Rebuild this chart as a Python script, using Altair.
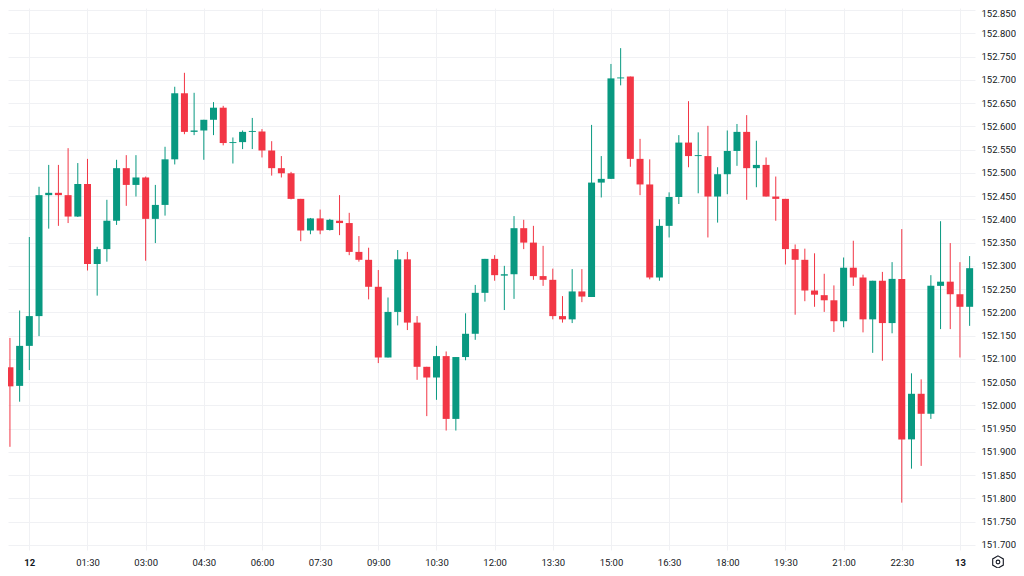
import altair as alt
import pandas as pd

# 15-minute candles, first candle at 23:15 of the previous day (minute -45)
start_minute = -45
step_minutes = 15

opens = [
    152.189, 152.082, 152.042, 152.128, 152.192, 152.452, 152.457, 152.452, 152.406, 152.476,
    152.304, 152.336, 152.397, 152.510, 152.474, 152.490, 152.401, 152.431, 152.529, 152.671,
    152.588, 152.591, 152.614, 152.640, 152.564, 152.566, 152.588, 152.589, 152.548, 152.510,
    152.499, 152.444, 152.376, 152.402, 152.377, 152.397, 152.392, 152.330, 152.313, 152.255,
    152.103, 152.201, 152.314, 152.178, 152.083, 152.060, 152.106, 151.971, 152.104, 152.154,
    152.242, 152.315, 152.279, 152.282, 152.381, 152.350, 152.278, 152.270, 152.192, 152.185,
    152.245, 152.233, 152.479, 152.487, 152.703, 152.707, 152.530, 152.475, 152.275, 152.386,
    152.448, 152.565, 152.536, 152.536, 152.449, 152.497, 152.547, 152.588, 152.510, 152.517,
    152.449, 152.444, 152.336, 152.313, 152.247, 152.237, 152.226, 152.181, 152.296, 152.275,
    152.185, 152.268, 152.177, 152.272, 151.927, 152.025, 151.982, 152.257, 152.266, 152.239,
    152.212,
]
closes = [
    152.083, 152.041, 152.128, 152.192, 152.452, 152.457, 152.452, 152.406, 152.476, 152.304,
    152.336, 152.397, 152.510, 152.474, 152.490, 152.401, 152.431, 152.529, 152.671, 152.588,
    152.591, 152.614, 152.640, 152.564, 152.566, 152.588, 152.590, 152.548, 152.510, 152.499,
    152.444, 152.376, 152.402, 152.376, 152.399, 152.392, 152.330, 152.313, 152.255, 152.103,
    152.201, 152.314, 152.178, 152.083, 152.060, 152.106, 151.971, 152.104, 152.154, 152.242,
    152.315, 152.280, 152.282, 152.381, 152.350, 152.278, 152.270, 152.192, 152.185, 152.245,
    152.234, 152.479, 152.487, 152.703, 152.705, 152.530, 152.475, 152.275, 152.386, 152.448,
    152.565, 152.536, 152.538, 152.449, 152.497, 152.547, 152.588, 152.510, 152.517, 152.449,
    152.444, 152.336, 152.313, 152.247, 152.238, 152.226, 152.181, 152.296, 152.275, 152.185,
    152.268, 152.177, 152.272, 151.927, 152.025, 151.982, 152.257, 152.266, 152.239, 152.212,
    152.295,
]
highs = [
    152.197, 152.145, 152.204, 152.362, 152.470, 152.517, 152.517, 152.553, 152.521, 152.530,
    152.341, 152.442, 152.528, 152.538, 152.538, 152.492, 152.474, 152.556, 152.685, 152.715,
    152.672, 152.614, 152.652, 152.644, 152.576, 152.591, 152.618, 152.594, 152.568, 152.536,
    152.502, 152.444, 152.403, 152.421, 152.401, 152.452, 152.414, 152.364, 152.339, 152.291,
    152.232, 152.334, 152.330, 152.192, 152.083, 152.128, 152.116, 152.104, 152.198, 152.259,
    152.315, 152.323, 152.300, 152.407, 152.399, 152.386, 152.343, 152.294, 152.235, 152.293,
    152.293, 152.603, 152.536, 152.734, 152.768, 152.707, 152.573, 152.529, 152.400, 152.458,
    152.581, 152.654, 152.587, 152.601, 152.512, 152.591, 152.605, 152.624, 152.569, 152.533,
    152.492, 152.444, 152.346, 152.337, 152.327, 152.283, 152.258, 152.318, 152.354, 152.281,
    152.268, 152.287, 152.308, 152.379, 152.069, 152.056, 152.280, 152.396, 152.349, 152.308,
    152.321,
]
lows = [
    152.076, 151.911, 152.008, 152.076, 152.149, 152.380, 152.386, 152.392, 152.405, 152.290,
    152.236, 152.309, 152.388, 152.429, 152.449, 152.311, 152.349, 152.408, 152.518, 152.583,
    152.581, 152.528, 152.581, 152.559, 152.520, 152.551, 152.551, 152.533, 152.494, 152.490,
    152.443, 152.353, 152.368, 152.368, 152.376, 152.366, 152.323, 152.309, 152.228, 152.091,
    152.103, 152.172, 152.162, 152.055, 151.977, 152.012, 151.946, 151.946, 152.097, 152.141,
    152.223, 152.268, 152.205, 152.229, 152.336, 152.270, 152.257, 152.185, 152.178, 152.177,
    152.222, 152.233, 152.447, 152.487, 152.688, 152.513, 152.452, 152.271, 152.268, 152.361,
    152.433, 152.512, 152.456, 152.361, 152.393, 152.454, 152.515, 152.442, 152.469, 152.449,
    152.397, 152.303, 152.195, 152.224, 152.212, 152.201, 152.158, 152.168, 152.257, 152.157,
    152.113, 152.096, 152.155, 151.791, 151.864, 151.870, 151.971, 152.164, 152.164, 152.103,
    152.171,
]

x_tick_values = [0, 90, 180, 270, 360, 450, 540, 630, 720, 810, 900, 990, 1080, 1170, 1260, 1350, 1440]
x_tick_labels = ["12", "01:30", "03:00", "04:30", "06:00", "07:30", "09:00", "10:30", "12:00",
                 "13:30", "15:00", "16:30", "18:00", "19:30", "21:00", "22:30", "13"]
day_ticks = [0, 1440]

price_ticks = [151.70, 151.75, 151.80, 151.85, 151.90, 151.95, 152.00, 152.05, 152.10, 152.15,
               152.20, 152.25, 152.30, 152.35, 152.40, 152.45, 152.50, 152.55, 152.60, 152.65,
               152.70, 152.75, 152.80, 152.85]

UP = "#089981"
DOWN = "#F23645"
GRID = "#f0f1f4"
TXT = "#131722"
FONT = "Roboto"

minutes = [start_minute + step_minutes * i for i in range(len(opens))]
df = pd.DataFrame({"t": minutes, "open": opens, "high": highs, "low": lows, "close": closes})
df["dir"] = ["up" if c >= o else "down" for o, c in zip(opens, closes)]

label_expr = "".join(f"datum.value == {v} ? '{l}' : " for v, l in zip(x_tick_values, x_tick_labels)) + "''"
bold_test = " || ".join(f"datum.value == {v}" for v in day_ticks)

x_enc = alt.X(
    "t:Q",
    scale=alt.Scale(domain=[-33, 1463.3], nice=False, zero=False, padding=0),
    axis=alt.Axis(
        values=x_tick_values, labelExpr=label_expr, grid=True, gridColor=GRID, gridWidth=1,
        domain=False, ticks=False, labelPadding=7, labelFontSize=9.5, labelColor=TXT,
        labelFont=FONT, labelOverlap=False, labelFlush=False, title=None,
        labelFontWeight={"condition": {"test": bold_test, "value": "bold"}, "value": "normal"},
    ),
)
y_scale = alt.Scale(domain=[151.6892, 152.8543], nice=False, zero=False, padding=0)
y_axis = alt.Axis(
    orient="right", values=price_ticks, format=".3f", grid=True, gridColor=GRID, gridWidth=1,
    domain=False, ticks=False, labelPadding=6, labelFontSize=9.5, labelColor=TXT,
    labelFont=FONT, labelOverlap=False, labelFlush=False, title=None,
    labelOffset={"condition": {"test": "datum.value > 152.84", "value": 3}, "value": 0},
)
color = alt.Color("dir:N", scale=alt.Scale(domain=["up", "down"], range=[UP, DOWN]), legend=None)

base = alt.Chart(df)
wicks = base.mark_rule(strokeWidth=1, clip=True).encode(
    x=x_enc, y=alt.Y("low:Q", scale=y_scale, axis=y_axis), y2="high:Q", color=color
)
bodies = base.mark_bar(size=7, clip=True).encode(
    x=x_enc, y=alt.Y("open:Q", scale=y_scale, axis=y_axis), y2="close:Q", color=color
)

icon_df = pd.DataFrame({"k": [0]})
hexagon = "M0,-1L0.866,-0.5L0.866,0.5L0,1L-0.866,0.5L-0.866,-0.5Z"
icon_hex = alt.Chart(icon_df).mark_point(
    shape=hexagon, size=150, filled=False, stroke=TXT, strokeWidth=1.1, opacity=1
).encode(x=alt.value(990), y=alt.value(554))
icon_dot = alt.Chart(icon_df).mark_point(
    shape="circle", size=14, filled=False, stroke=TXT, strokeWidth=1.1, opacity=1
).encode(x=alt.value(990), y=alt.value(554))

chart = alt.layer(wicks, bodies, icon_hex, icon_dot).properties(
    width=967,
    height=542,
    autosize=alt.AutoSizeParams(type="none"),
    padding={"left": 0, "top": 0, "right": 41, "bottom": 18},
    background="white",
).configure_view(stroke=None)

chart.save("out.html", embed_options={"renderer": "svg", "actions": False})
